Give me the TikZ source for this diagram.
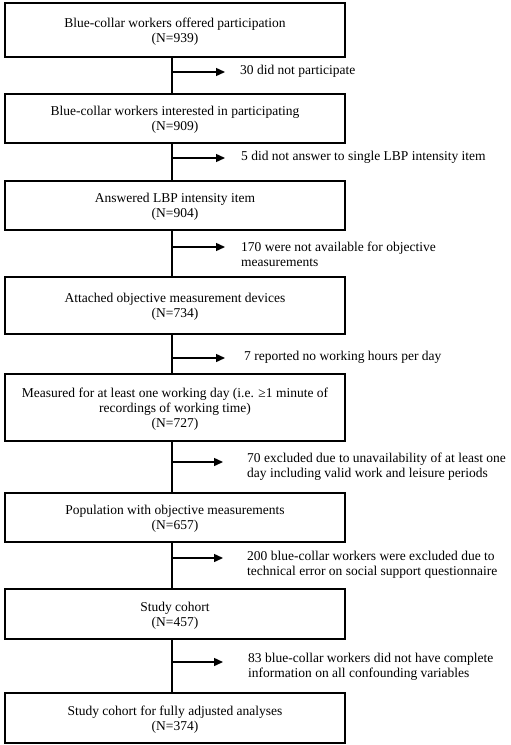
\documentclass[tikz,border=0pt]{standalone}
\usepackage{fontspec}
\setmainfont{Liberation Serif}
\usetikzlibrary{arrows.meta}
\begin{document}
\begin{tikzpicture}[x=1pt,y=-1pt,
  box/.style={draw, line width=2.4pt, minimum width=340pt, inner sep=0pt, align=center,
    text depth=0pt, font=\fontsize{13.5}{15}\selectfont},
  excl/.style={anchor=west, inner sep=0pt, align=left, font=\fontsize{13.5}{15}\selectfont},
  spine/.style={line width=2pt},
  exarrow/.style={line width=1.4pt, -{Triangle[length=9pt,width=8pt]}}]
\useasboundingbox (0,0) rectangle (511,745);
\fill[white] (0,0) rectangle (511,745);
\coordinate (sx) at (172,0);

\node[box, minimum height=54pt] (b1) at (175,30) {Blue-collar workers offered participation\\(N=939)};
\node[box, minimum height=49pt] (b2) at (175,118.5) {Blue-collar workers interested in participating\\(N=909)};
\node[box, minimum height=49pt] (b3) at (175,205.5) {Answered LBP intensity item\\(N=904)};
\node[box, minimum height=57pt] (b4) at (175,305.5) {Attached objective measurement devices\\(N=734)};
\node[box, minimum height=67pt] (b5) at (175,407.5) {Measured for at least one working day (i.e. ≥1 minute of\\recordings of working time)\\(N=727)};
\node[box, minimum height=49pt] (b6) at (175,517.5) {Population with objective measurements\\(N=657)};
\node[box, minimum height=50pt] (b7) at (175,614) {Study cohort\\(N=457)};
\node[box, minimum height=50pt] (b8) at (175,718) {Study cohort for fully adjusted analyses\\(N=374)};

\foreach \a/\b in {b1/b2,b2/b3,b3/b4,b4/b5,b5/b6,b6/b7,b7/b8}
  \draw[spine] (\a.south -| sx) -- (\b.north -| sx);

\coordinate (a1) at (225,72);
\coordinate (a2) at (225,158);
\coordinate (a3) at (225,247);
\coordinate (a4) at (225,358);
\coordinate (a5) at (223,462);
\coordinate (a6) at (223,558);
\coordinate (a7) at (223,662);
\foreach \i in {1,...,7}
  \draw[exarrow] (sx |- a\i) -- (a\i);

\node[excl] (e1) at (240,71) {30 did not participate};
\node[excl] (e2) at (241,157) {5 did not answer to single LBP intensity item};
\node[excl] (e3) at (241,254) {170 were not available for objective\\measurements};
\node[excl] (e4) at (244,357) {7 reported no working hours per day};
\node[excl] (e5) at (247,467) {70 excluded due to unavailability of at least one\\day including valid work and leisure periods};
\node[excl] (e6) at (247,565) {200 blue-collar workers were excluded due to\\technical error on social support questionnaire};
\node[excl] (e7) at (248,667) {83 blue-collar workers did not have complete\\information on all confounding variables};
\end{tikzpicture}
\end{document}
